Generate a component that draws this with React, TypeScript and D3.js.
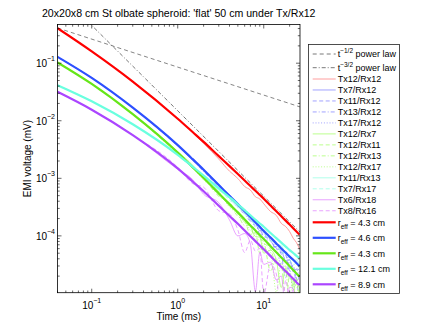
import { useEffect, useRef } from "react";
import * as d3 from "d3";

// time samples (ms) shared by all measured curves and fits
const tGrid = [0.04, 0.1, 0.3, 1, 1.5, 2, 3, 4, 5, 6, 7, 8, 9, 10, 12, 14, 16, 18, 20, 22, 24, 26];

// model fits (mV)
const fitRed = [0.404, 0.160, 0.0478, 0.01084, 6.31e-3, 4.29e-3, 2.43e-3, 1.63e-3, 1.19e-3, 9.16e-4, 7.34e-4, 6.08e-4, 5.14e-4, 4.43e-4, 3.37e-4, 2.67e-4, 2.19e-4, 1.84e-4, 1.57e-4, 1.36e-4, 1.19e-4, 1.05e-4];
const fitBlue = [0.129, 0.0555, 0.0169, 3.77e-3, 2.13e-3, 1.41e-3, 7.64e-4, 4.98e-4, 3.56e-4, 2.69e-4, 2.12e-4, 1.73e-4, 1.44e-4, 1.22e-4, 9.34e-5, 7.40e-5, 6.05e-5, 5.12e-5, 4.36e-5, 3.84e-5, 3.39e-5, 2.99e-5];
const fitGreen = [0.103, 0.0436, 0.0130, 2.79e-3, 1.54e-3, 1.01e-3, 5.48e-4, 3.56e-4, 2.56e-4, 1.93e-4, 1.52e-4, 1.24e-4, 1.03e-4, 8.79e-5, 6.62e-5, 5.20e-5, 4.22e-5, 3.52e-5, 2.98e-5, 2.56e-5, 2.23e-5, 1.96e-5];
const fitCyan = [0.0415, 0.0218, 8.69e-3, 2.56e-3, 1.58e-3, 1.12e-3, 6.70e-4, 4.69e-4, 3.54e-4, 2.79e-4, 2.28e-4, 1.91e-4, 1.64e-4, 1.44e-4, 1.12e-4, 9.12e-5, 7.62e-5, 6.52e-5, 5.64e-5, 5.04e-5, 4.50e-5, 4.10e-5];
const fitPurple = [0.0318, 0.01555, 5.64e-3, 1.49e-3, 8.73e-4, 5.96e-4, 3.34e-4, 2.22e-4, 1.62e-4, 1.24e-4, 9.88e-5, 8.11e-5, 6.81e-5, 5.84e-5, 4.45e-5, 3.52e-5, 2.88e-5, 2.43e-5, 2.07e-5, 1.80e-5, 1.57e-5, 1.40e-5];

// measured transients (mV)
const tx12rx12 = [0.404, 0.160, 0.0478, 1.07e-2, 6.18e-3, 4.04e-3, 2.16e-3, 1.33e-3, 9.94e-4, 7.20e-4, 6.25e-4, 4.78e-4, 4.38e-4, 3.62e-4, 2.65e-4, 2.27e-4, 1.65e-4, 1.45e-4, 1.19e-4, 9.11e-5, 7.65e-5, 5.99e-5];
const tx7rx12 = [0.129, 0.0555, 0.0169, 3.77e-3, 2.05e-3, 1.38e-3, 7.95e-4, 4.79e-4, 3.29e-4, 2.69e-4, 1.88e-4, 1.66e-4, 1.23e-4, 1.27e-4, 8.28e-5, 6.05e-5, 5.58e-5, 3.72e-5, 3.87e-5, 2.37e-5, 2.66e-5, 2.55e-5];
const tx11rx12 = [0.129, 0.0555, 0.0169, 3.69e-3, 2.22e-3, 1.36e-3, 7.05e-4, 5.18e-4, 3.42e-4, 2.39e-4, 2.30e-4, 1.47e-4, 1.38e-4, 9.59e-5, 9.34e-5, 5.16e-5, 5.15e-5, 4.73e-5, 2.49e-5, 3.14e-5, 1.52e-5, 2.17e-5];
const tx13rx12 = [0.129, 0.0555, 0.0169, 3.77e-3, 2.09e-3, 1.30e-3, 7.64e-4, 4.42e-4, 3.71e-4, 2.48e-4, 1.81e-4, 1.73e-4, 1.09e-4, 1.13e-4, 6.26e-5, 6.56e-5, 4.76e-5, 1.88e-5, 3.71e-5, 2.68e-5, 1.86e-5, 6.0e-6];
const tx17rx12 = [0.129, 0.0555, 0.0169, 3.69e-3, 2.05e-3, 1.47e-3, 7.34e-4, 4.60e-4, 3.16e-4, 2.91e-4, 2.04e-4, 1.42e-4, 1.33e-4, 8.86e-5, 8.98e-5, 6.30e-5, 3.18e-5, 4.54e-5, 2.92e-5, 1.15e-5, 2.66e-5, 1.85e-5];
const tx12rx7 = [0.103, 0.0436, 0.0130, 2.90e-3, 1.67e-3, 9.71e-4, 5.70e-4, 3.29e-4, 2.56e-4, 1.71e-4, 1.46e-4, 9.75e-5, 9.51e-5, 5.01e-5, 5.64e-5, 3.78e-5, 1.27e-5, 2.77e-5, 1.84e-5, 1.78e-5, 4.5e-6, 1.31e-5];
const tx12rx11 = [0.103, 0.0436, 0.0130, 2.79e-3, 1.48e-3, 1.09e-3, 5.06e-4, 3.56e-4, 2.18e-4, 1.85e-4, 1.06e-4, 1.14e-4, 5.01e-5, 7.19e-5, 5.87e-5, 3.21e-5, 3.19e-5, 5.8e-6, 2.16e-5, 1.40e-5, 1.82e-5, 8.8e-6];
const tx12rx13 = [0.103, 0.0436, 0.0130, 2.68e-3, 1.60e-3, 1.01e-3, 4.86e-4, 3.71e-4, 2.36e-4, 1.52e-4, 1.52e-4, 7.97e-5, 8.78e-5, 7.80e-5, 2.43e-5, 4.09e-5, 2.83e-5, 3.00e-5, 4.0e-6, 1.78e-5, 1.27e-5, 1.54e-5];
const tx12rx17 = [0.103, 0.0436, 0.0130, 2.85e-3, 1.54e-3, 9.32e-4, 5.93e-4, 3.16e-4, 2.46e-4, 2.01e-4, 1.24e-4, 1.10e-4, 1.03e-4, 6.13e-5, 5.20e-5, 1.05e-5, 3.45e-5, 2.26e-5, 2.25e-5, 1.15e-5, 1.49e-5, 4.8e-6];
const tx11rx13 = [0.0415, 0.0218, 8.69e-3, 2.56e-3, 1.52e-3, 1.08e-3, 6.18e-4, 4.51e-4, 3.14e-4, 2.58e-4, 1.94e-4, 1.76e-4, 1.34e-4, 1.28e-4, 9.54e-5, 7.17e-5, 6.76e-5, 4.92e-5, 4.61e-5, 3.66e-5, 3.83e-5, 3.22e-5];
const tx7rx17 = [0.0415, 0.0218, 8.69e-3, 2.56e-3, 1.64e-3, 1.03e-3, 6.70e-4, 4.16e-4, 3.40e-4, 2.38e-4, 2.10e-4, 1.50e-4, 1.45e-4, 1.18e-4, 8.13e-5, 7.77e-5, 5.11e-5, 5.12e-5, 3.93e-5, 3.11e-5, 3.40e-5, 2.64e-5];
const tx6rx18 = [0.0318, 0.01555, 5.64e-3, 1.43e-3, 9.45e-4, 5.29e-4, 3.77e-4, 1.89e-4, 1.00e-4, 1.10e-4, 7.17e-5, 1.09e-5, 5.14e-5, 3.20e-5, 3.50e-5, 1.71e-5, 2.01e-5, 4.9e-6, 1.28e-5, 1.21e-5, 4.7e-6, 8.0e-6];
const tx8rx16 = [0.0318, 0.01555, 5.64e-3, 1.55e-3, 8.06e-4, 7.00e-4, 2.73e-4, 2.40e-4, 1.27e-4, 5.13e-5, 8.42e-5, 5.43e-5, 6.04e-5, 9.6e-6, 3.23e-5, 2.18e-5, 2.6e-6, 1.69e-5, 7.6e-6, 1.16e-5, 8.6e-6, 1.9e-6];

// reference power laws (end points)
const powHalfT = [0.04, 26.4];
const powHalfV = [0.409, 0.0174];
const powThreeHalfT = [0.09, 26.4];
const powThreeHalfV = [0.53, 1.16e-4];

const dataLabels = ["Tx12/Rx12", "Tx7/Rx12", "Tx11/Rx12", "Tx13/Rx12", "Tx17/Rx12", "Tx12/Rx7", "Tx12/Rx11", "Tx12/Rx13", "Tx12/Rx17", "Tx11/Rx13", "Tx7/Rx17", "Tx6/Rx18", "Tx8/Rx16"];
const dataValues = [tx12rx12, tx7rx12, tx11rx12, tx13rx12, tx17rx12, tx12rx7, tx12rx11, tx12rx13, tx12rx17, tx11rx13, tx7rx17, tx6rx18, tx8rx16];
const dataColors = ["#ff8585", "#8a8cff", "#8a8cff", "#8a8cff", "#8a8cff", "#aaff70", "#aaff70", "#aaff70", "#aaff70", "#9cffe6", "#9cffe6", "#e38cff", "#e38cff"];
const dataDashes = ["", "", "4,2.5", "4,2,1,2", "1,1.8", "", "4,2.5", "4,2,1,2", "1,1.8", "", "4,2.5", "", "4,2.5"];

const reffLabels = ["4.3", "4.6", "4.3", "12.1", "8.9"];
const fitValues = [fitRed, fitBlue, fitGreen, fitCyan, fitPurple];
const fitColors = ["#ff0000", "#2d50ff", "#66e619", "#6affdf", "#ab45ff"];

const W = 443;
const H = 330;
const plotL = 57.5, plotR = 300, plotT = 24.5, plotB = 292.7;
const font = "'Liberation Sans', Arial, Helvetica, sans-serif";

export default function App() {
  const ref = useRef<SVGSVGElement>(null);

  useEffect(() => {
    const svg = d3.select(ref.current);
    svg.selectAll("*").remove();

    svg.append("rect").attr("width", W).attr("height", H).attr("fill", "#fff");

    const x = d3.scaleLog().domain([0.04, 26.4]).range([plotL, plotR]);
    const y = d3.scaleLog().domain([1.03e-5, 0.47]).range([plotB, plotT]);

    svg.append("defs").append("clipPath").attr("id", "plot-clip")
      .append("rect")
      .attr("x", plotL).attr("y", plotT)
      .attr("width", plotR - plotL).attr("height", plotB - plotT);

    const plot = svg.append("g").attr("clip-path", "url(#plot-clip)");

    const smooth = d3.line<[number, number]>()
      .x(d => x(d[0])).y(d => y(d[1]))
      .curve(d3.curveMonotoneX);
    const straight = d3.line<[number, number]>()
      .x(d => x(d[0])).y(d => y(d[1]));

    // power laws
    plot.append("path")
      .attr("d", straight(d3.zip(powHalfT, powHalfV) as [number, number][]))
      .attr("fill", "none").attr("stroke", "#666").attr("stroke-width", 0.8)
      .attr("stroke-dasharray", "4,3");
    plot.append("path")
      .attr("d", straight(d3.zip(powThreeHalfT, powThreeHalfV) as [number, number][]))
      .attr("fill", "none").attr("stroke", "#555").attr("stroke-width", 0.8)
      .attr("stroke-dasharray", "4,2,1,2");

    // measured curves
    dataValues.forEach((vals, i) => {
      plot.append("path")
        .attr("d", smooth(d3.zip(tGrid, vals) as [number, number][]))
        .attr("fill", "none")
        .attr("stroke", dataColors[i])
        .attr("stroke-width", 0.8)
        .attr("stroke-dasharray", dataDashes[i] || null);
    });

    // fits
    fitValues.forEach((vals, i) => {
      plot.append("path")
        .attr("d", smooth(d3.zip(tGrid, vals) as [number, number][]))
        .attr("fill", "none")
        .attr("stroke", fitColors[i])
        .attr("stroke-width", 2.2);
    });

    // axes box + inward ticks on all sides
    svg.append("rect")
      .attr("x", plotL).attr("y", plotT)
      .attr("width", plotR - plotL).attr("height", plotB - plotT)
      .attr("fill", "none").attr("stroke", "#000").attr("stroke-width", 0.8);

    const isMajor = (v: number) => Math.abs(Math.log10(v) - Math.round(Math.log10(v))) < 1e-6;
    const ticks = svg.append("g").attr("stroke", "#000").attr("stroke-width", 0.6);
    x.ticks().forEach(v => {
      const len = isMajor(v) ? 4 : 2.2;
      const px = x(v);
      ticks.append("line").attr("x1", px).attr("x2", px).attr("y1", plotB).attr("y2", plotB - len);
      ticks.append("line").attr("x1", px).attr("x2", px).attr("y1", plotT).attr("y2", plotT + len);
    });
    y.ticks().forEach(v => {
      const len = isMajor(v) ? 4 : 2.2;
      const py = y(v);
      ticks.append("line").attr("x1", plotL).attr("x2", plotL + len).attr("y1", py).attr("y2", py);
      ticks.append("line").attr("x1", plotR).attr("x2", plotR - len).attr("y1", py).attr("y2", py);
    });

    // tick labels
    [-1, 0, 1].forEach(e => {
      const t = svg.append("text")
        .attr("x", x(Math.pow(10, e))).attr("y", 308.5)
        .attr("text-anchor", "middle")
        .attr("font-family", font).attr("font-size", 10).attr("fill", "#000");
      t.append("tspan").text("10");
      t.append("tspan").attr("dy", -5.5).attr("font-size", 7).text(e < 0 ? `\u2212${-e}` : `${e}`);
    });
    [-1, -2, -3, -4].forEach(e => {
      const t = svg.append("text")
        .attr("x", 55).attr("y", y(Math.pow(10, e)) + 4)
        .attr("text-anchor", "end")
        .attr("font-family", font).attr("font-size", 10).attr("fill", "#000");
      t.append("tspan").text("10");
      t.append("tspan").attr("dy", -6).attr("font-size", 7).text(`\u2212${-e}`);
    });

    // axis titles
    svg.append("text")
      .attr("x", (plotL + plotR) / 2).attr("y", 320)
      .attr("text-anchor", "middle")
      .attr("font-family", font).attr("font-size", 10)
      .text("Time (ms)");
    svg.append("text")
      .attr("transform", `translate(31,${(plotT + plotB) / 2}) rotate(-90)`)
      .attr("text-anchor", "middle")
      .attr("font-family", font).attr("font-size", 10)
      .text("EMI voltage (mV)");
    svg.append("text")
      .attr("x", (plotL + plotR) / 2).attr("y", 17)
      .attr("text-anchor", "middle")
      .attr("font-family", font).attr("font-size", 10.6)
      .text("20x20x8 cm St olbate spheroid: 'flat' 50 cm under Tx/Rx12");

    // legend
    const lg = svg.append("g");
    lg.append("rect")
      .attr("x", 308.5).attr("y", 44.5).attr("width", 91).attr("height", 249)
      .attr("fill", "#fff").attr("stroke", "#222").attr("stroke-width", 0.8);

    const lx1 = 312.7, lx2 = 335.7, tx = 337.7;
    const sample = (yy: number, color: string, width: number, dash: string) => {
      lg.append("line")
        .attr("x1", lx1).attr("x2", lx2).attr("y1", yy).attr("y2", yy)
        .attr("stroke", color).attr("stroke-width", width)
        .attr("stroke-dasharray", dash || null);
    };
    const label = (yy: number) => lg.append("text")
      .attr("x", tx).attr("y", yy + 3.2)
      .attr("font-family", font).attr("font-size", 9).attr("fill", "#000");

    [["1/2", "4,3", 54], ["3/2", "4,2,1,2", 67.7]].forEach(([p, dash, yy]) => {
      sample(yy as number, "#555", 0.8, dash as string);
      const t = label(yy as number);
      t.append("tspan").text("t");
      t.append("tspan").attr("dy", -4).attr("font-size", 6.5).text(`\u2212${p}`);
      t.append("tspan").attr("dy", 4).text(" power law");
    });

    dataLabels.forEach((name, i) => {
      const yy = 79 + i * 10.98;
      sample(yy, dataColors[i], 0.8, dataDashes[i]);
      label(yy).text(name);
    });

    reffLabels.forEach((r, i) => {
      const yy = 222.3 + i * 15.5;
      sample(yy, fitColors[i], 2.2, "");
      const t = label(yy);
      t.append("tspan").text("r");
      t.append("tspan").attr("dy", 3).attr("font-size", 6.5).text("eff");
      t.append("tspan").attr("dy", -3).text(` = ${r} cm`);
    });
  }, []);

  return (
    <svg
      ref={ref}
      width={W}
      height={H}
      style={{ position: "absolute", left: 0, top: 0, display: "block" }}
    />
  );
}
